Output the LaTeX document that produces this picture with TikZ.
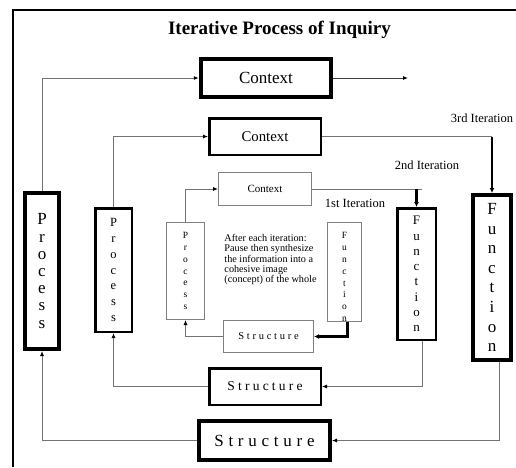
\documentclass[tikz,border=0pt]{standalone}
\usepackage{fontspec}
\setmainfont{Liberation Serif}
\usetikzlibrary{arrows.meta}
\begin{document}
\begin{tikzpicture}[x=1pt,y=-1pt,
  box/.style={draw,inner sep=0pt,align=center},
  boxA/.style={box,line width=1pt,draw=black!50},
  boxB/.style={box,line width=2.5pt},
  boxC/.style={box,line width=4pt},
  conn/.style={draw=black!55,line width=0.9pt,-{Latex[black,length=5pt,width=4pt]}},
  plain/.style={draw=black!55,line width=0.9pt},
  connk/.style={draw=black,line width=2.2pt,-{Latex[length=5pt,width=5pt]}},
  lbl/.style={inner sep=0pt,font=\fontsize{12.5}{14}\selectfont}
]
\useasboundingbox (0,0) rectangle (516,467);
\draw[line width=2pt] (13,467) -- (13,10) -- (516,10);

\node[inner sep=0pt,font=\fontsize{19}{21}\selectfont\bfseries] (title) at (279.5,30) {Iterative Process of Inquiry};

% Context boxes
\node[boxC,minimum width=130.5pt,minimum height=38.5pt,font=\fontsize{17}{17}\selectfont] (c3) at (266,78) {Context};
\node[boxB,minimum width=111.5pt,minimum height=36.5pt,font=\fontsize{14.8}{15}\selectfont] (c2) at (265,136.5) {Context};
\node[boxA,minimum width=93pt,minimum height=33pt,font=\fontsize{11}{11}\selectfont] (c1) at (265,189) {Context};

% Process boxes
\node[boxC,minimum width=34pt,minimum height=156pt,font=\fontsize{17}{17.2}\selectfont] (p3) at (42,271) {P\\r\\o\\c\\e\\s\\s};
\node[boxB,minimum width=36.5pt,minimum height=123.5pt,font=\fontsize{12.5}{15.7}\selectfont] (p2) at (113.5,270) {P\\r\\o\\c\\e\\s\\s};
\node[boxA,minimum width=38pt,minimum height=97pt,font=\fontsize{9.5}{11.8}\selectfont] (p1) at (185.5,271) {P\\r\\o\\c\\e\\s\\s};

% Function boxes
\node[boxA,minimum width=34pt,minimum height=99pt] (f1) at (344.5,272) {};
\node[inner sep=0pt,align=center,font=\fontsize{9.5}{11.9}\selectfont] (f1t) at (344.5,277) {F\\u\\n\\c\\t\\i\\o\\n};
\node[boxB,minimum width=38.5pt,minimum height=131.5pt,font=\fontsize{13}{15.3}\selectfont] (f2) at (416.5,274) {F\\u\\n\\c\\t\\i\\o\\n};
\node[boxC,minimum width=38pt,minimum height=165pt,font=\fontsize{17}{19.6}\selectfont] (f3) at (492,277.5) {F\\u\\n\\c\\t\\i\\o\\n};

% Structure boxes
\node[boxA,minimum width=90pt,minimum height=32pt,font=\fontsize{10.5}{11}\selectfont\addfontfeature{LetterSpace=26}] (s1) at (268.5,336.5) {Structure};
\node[boxB,minimum width=111.5pt,minimum height=36.5pt,font=\fontsize{13.5}{14}\selectfont\addfontfeature{LetterSpace=24}] (s2) at (265,386.5) {Structure};
\node[boxC,minimum width=131pt,minimum height=39pt,font=\fontsize{17}{17}\selectfont\addfontfeature{LetterSpace=28}] (s3) at (264.5,440.5) {Structure};

% note text
\node[inner sep=0pt,align=left,font=\fontsize{10.2}{10.2}\selectfont] (note) at (270.5,259.5) {After each iteration:\\Pause then synthesize\\the information into a\\cohesive image\\(concept) of the whole};

% iteration labels
\node[lbl] (it3) at (482,118) {3rd Iteration};
\node[lbl] (it2) at (427,165) {2nd Iteration};
\node[lbl] (it1) at (355,203) {1st Iteration};

% connectors: process -> context
\draw[conn] (p3.north) |- (c3.west);
\draw[conn] (p2.north) |- (c2.west);
\draw[conn] (p1.north) |- (c1.west);

% context -> onward
\coordinate (end3) at (408,78);
\draw[conn,draw=black!75] (c3.east) -- (end3);
\coordinate (k3) at (f3.north |- c2.east);
\draw[plain] (c2.east) -- (k3);
\draw[connk] (k3) -- (f3.north);
\coordinate (k2) at (f2.north |- c1.east);
\draw[plain] (c1.east) -- ([xshift=5pt]k2);
\draw[connk] (k2) -- (f2.north);

% function -> structure
\draw[connk] ([xshift=3pt]f1.south) |- (s1.east);
\draw[conn] ([xshift=5.5pt]f2.south) |- (s2.east);
\draw[conn] ([xshift=7pt]f3.south) |- (s3.east);

% structure -> process
\draw[conn] (s1.west) -| (p1.south);
\draw[conn] (s2.west) -| (p2.south);
\draw[conn] (s3.west) -| (p3.south);
\end{tikzpicture}
\end{document}
